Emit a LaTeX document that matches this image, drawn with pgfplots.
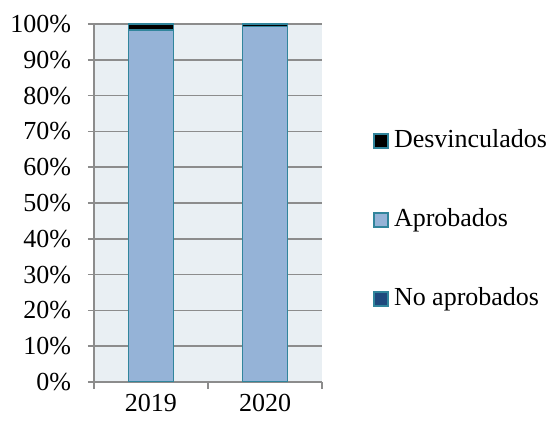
\documentclass[border=0pt]{standalone}
\usepackage{pgfplots}
\pgfplotsset{compat=1.18}
\usepackage{fontspec}
\setmainfont{Liberation Serif}
\definecolor{aprob}{RGB}{149,179,215}
\definecolor{noaprob}{RGB}{31,73,125}
\definecolor{edge}{RGB}{49,133,156}
\definecolor{bg}{RGB}{233,239,243}
\definecolor{gridc}{RGB}{140,140,140}
\begin{document}
\begin{tikzpicture}
\fontsize{26bp}{30bp}\selectfont
\path[use as bounding box] (-94bp,-41bp) rectangle (457bp,382bp);
\begin{axis}[
  at={(0,0)}, anchor=south west,
  scale only axis, width=228bp, height=358bp,
  ybar stacked, bar width=45bp,
  xmin=-0.5, xmax=1.5, ymin=0, ymax=100,
  xtick={0,1}, xticklabels={2019,2020},
  major x tick style={draw=none},
  minor xtick={-0.5,0.5,1.5},
  minor x tick style={draw=gridc, line width=1.6bp},
  ytick={0,10,...,100},
  yticklabel={\pgfmathprintnumber{\tick}\%},
  /pgf/number format/assume math mode=true,
  tick align=outside,
  major tick length=6bp, minor tick length=7bp,
  axis x line*=bottom, axis y line*=left,
  axis line style={draw=gridc, line width=1.6bp, -},
  y tick style={draw=gridc, line width=1.6bp},
  ymajorgrids, grid style={draw=gridc, line width=1.6bp},
  axis background/.style={fill=bg},
  tick label style={font=\fontsize{26bp}{30bp}\selectfont},
  yticklabel style={xshift=-8bp},
  xticklabel style={yshift=-5bp, inner ysep=1bp},
  legend style={draw=none, fill=none, inner sep=0pt,
    at={(1.2237,0.4525)}, anchor=west,
    font=\fontsize{26bp}{30bp}\selectfont,
    nodes={inner sep=0pt, text height=18bp, text depth=6bp},
    row sep=55bp,
    /tikz/every odd column/.style={column sep=5bp}},
  legend cell align=left,
  reverse legend,
  legend image code/.code={\draw[#1] (0bp,-7bp) rectangle (14bp,7bp);},
]
\addplot[fill=noaprob, draw=edge, line width=1.8bp] coordinates {(0,0) (1,0)};
\addplot[fill=aprob, draw=edge, line width=1.8bp] coordinates {(0,98.3) (1,99.3)};
\addplot[fill=black, draw=edge, line width=1.8bp] coordinates {(0,1.7) (1,0.7)};
\legend{No aprobados,Aprobados,Desvinculados}
\end{axis}
\end{tikzpicture}
\end{document}
